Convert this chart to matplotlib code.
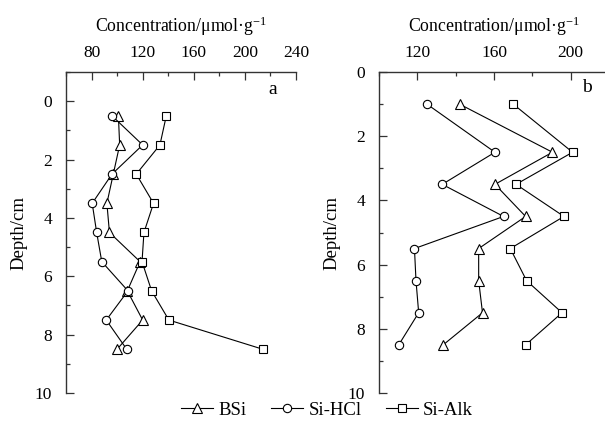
import matplotlib
matplotlib.use("Agg")
import matplotlib.pyplot as plt
from matplotlib.ticker import MultipleLocator

plt.rcParams['font.family'] = ['Liberation Serif', 'DejaVu Serif']
plt.rcParams['mathtext.fontset'] = 'custom'
plt.rcParams['mathtext.rm'] = 'Liberation Serif'
plt.rcParams['mathtext.it'] = 'Liberation Serif:italic'

# Panel a
depth_a = [0.5, 1.5, 2.5, 3.5, 4.5, 5.5, 6.5, 7.5, 8.5]
bsi_a = [101, 102, 97, 92, 94, 118, 108, 120, 100]
hcl_a = [96, 120, 96, 80.5, 84, 88, 108.5, 91.5, 107.5]
alk_a = [138.5, 133.5, 115, 128.5, 121, 119.5, 127, 140.5, 214]

# Panel b
depth_b = [1.0, 2.5, 3.5, 4.5, 5.5, 6.5, 7.5, 8.5]
bsi_b = [142, 190.5, 160.5, 176.5, 152, 152, 154, 133.5]
hcl_b = [125, 160.5, 133, 165, 118.5, 119.3, 120.7, 110.3]
alk_b = [170, 201, 171.5, 196.5, 168.5, 177, 195.5, 176.5]

series_names = ['BSi', 'Si-HCl', 'Si-Alk']
markers = ['^', 'o', 's']
msizes = [6.5, 6, 5.5]

xlabel = 'Concentration/μmol·g$^{-1}$'
ylabel = 'Depth/cm'

W, H = 605, 426
fig = plt.figure(figsize=(W / 100, H / 100), dpi=100)

def ax_rect(l, r, t, b):
    return [l / W, (H - b) / H, (r - l) / W, (b - t) / H]

ax_a = fig.add_axes(ax_rect(66, 296, 72, 393))
ax_b = fig.add_axes(ax_rect(379, 609, 72, 393))

spine_c = '#333333'

def style(ax, xlim, ylim, xmaj, xmin):
    ax.set_xlim(*xlim)
    ax.set_ylim(*ylim)
    ax.xaxis.set_ticks_position('top')
    ax.xaxis.set_label_position('top')
    ax.xaxis.set_major_locator(MultipleLocator(xmaj))
    ax.xaxis.set_minor_locator(MultipleLocator(xmin))
    ax.yaxis.set_major_locator(MultipleLocator(2))
    ax.yaxis.set_minor_locator(MultipleLocator(1))
    for s in ['right', 'bottom']:
        ax.spines[s].set_visible(False)
    for s in ['left', 'top']:
        ax.spines[s].set_color(spine_c)
        ax.spines[s].set_linewidth(1.0)
    ax.tick_params(which='major', direction='in', length=5.5, width=0.9,
                   color=spine_c, labelsize=12.5)
    ax.tick_params(which='minor', direction='in', length=2.8, width=0.9,
                   color=spine_c)
    ax.tick_params(axis='x', which='both', top=True, bottom=False, pad=8)
    ax.tick_params(axis='y', which='both', left=True, right=False, pad=10)
    ax.set_xlabel(xlabel, fontsize=12.8, labelpad=9)
    ax.set_ylabel(ylabel, fontsize=13.5, labelpad=5)

style(ax_a, (60, 240), (10, -1), 40, 20)
style(ax_b, (100, 220), (10, 0), 40, 20)

handles = []
for ax, depth, vals in [(ax_a, depth_a, [bsi_a, hcl_a, alk_a]),
                        (ax_b, depth_b, [bsi_b, hcl_b, alk_b])]:
    hs = []
    for v, m, ms, name in zip(vals, markers, msizes, series_names):
        h, = ax.plot(v, depth, color='black', linewidth=0.8, marker=m,
                     markersize=ms, markerfacecolor='white',
                     markeredgecolor='black', markeredgewidth=0.8,
                     label=name, clip_on=False)
        hs.append(h)
    handles = hs

ax_a.text(0.9, 0.945, 'a', transform=ax_a.transAxes, fontsize=14,
          ha='center', va='center')
ax_b.text(0.905, 0.952, 'b', transform=ax_b.transAxes, fontsize=14,
          ha='center', va='center')

fig.legend(handles, series_names, loc='center', bbox_to_anchor=(327 / W, 1 - 410 / H),
           ncol=3, frameon=False, fontsize=13.5, handlelength=1.7,
           handletextpad=0.3, columnspacing=1.3, borderpad=0)

fig.savefig('out.png', dpi=100)
